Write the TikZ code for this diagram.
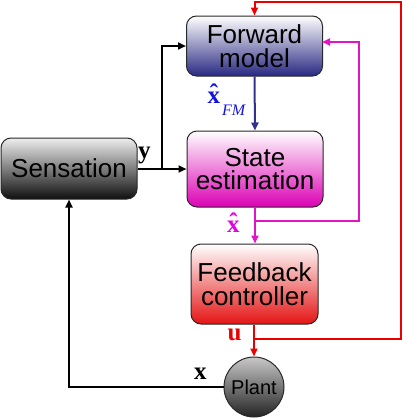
\documentclass[tikz,border=0pt]{standalone}
\usepackage{fontspec}
\setsansfont{Liberation Sans}
\newfontfamily\lserif{Liberation Serif}
\usetikzlibrary{arrows.meta}
\newcommand\myxhat{\ooalign{x\cr\hidewidth\raisebox{0.06em}{\symbol{"02C6}}\hidewidth\cr}}
\definecolor{fmbot}{RGB}{40,40,130}
\definecolor{sebot}{RGB}{220,0,180}
\definecolor{fcbot}{RGB}{228,20,20}
\definecolor{snbot}{RGB}{15,15,15}
\definecolor{sntop}{RGB}{238,238,238}
\definecolor{pltop}{RGB}{200,200,200}
\definecolor{plbot}{RGB}{35,35,35}
\definecolor{lnblue}{RGB}{50,50,140}
\definecolor{labblue}{RGB}{20,20,220}
\definecolor{lnmag}{RGB}{225,20,200}
\definecolor{labmag}{RGB}{230,0,230}
\definecolor{lnred}{RGB}{235,0,0}
\definecolor{boxedge}{RGB}{40,40,40}
\tikzset{
  blockbox/.style={draw=boxedge, line width=1pt, rounded corners=10pt, inner sep=0pt,
    align=center, font=\sffamily\fontsize{26}{23.5}\selectfont},
  conn/.style={line width=2pt, -{Triangle[length=8pt,width=7pt]}},
  lab/.style={font=\lserif\bfseries\fontsize{25}{25}\selectfont, inner sep=0pt, anchor=base west},
}
\begin{document}
\begin{tikzpicture}[x=1pt,y=-1pt]
\useasboundingbox (0,0) rectangle (403,418);
% blocks
\node[blockbox, minimum width=136pt, minimum height=60pt, top color=white, bottom color=fmbot] (fm) at (254.5,46) {Forward\\model};
\node[blockbox, minimum width=136pt, minimum height=76pt, top color=white, bottom color=sebot] (se) at (255,169) {State\\estimation};
\node[blockbox, minimum width=127pt, minimum height=80pt, top color=white, bottom color=fcbot] (fc) at (254.5,284) {Feedback\\controller};
\node[blockbox, minimum width=136pt, minimum height=61pt, top color=sntop, bottom color=snbot] (sn) at (69,168.5) {Sensation};
\node[circle, draw=boxedge, line width=1pt, minimum size=60pt, inner sep=0pt, top color=pltop, bottom color=plbot,
  font=\sffamily\fontsize{20}{20}\selectfont] (pl) at (254,387) {Plant};
% coordinates
\coordinate (j1) at (162,169);
\coordinate (j2) at (255,221);
\coordinate (m1) at (359,221);
\coordinate (m2) at (359,42);
\coordinate (m3) at (322,42);
\coordinate (j3) at (254,339);
\coordinate (r1) at (401,339);
\coordinate (r2) at (401,2);
\coordinate (r3) at (254.5,2);
% connectors
\draw[conn, lnblue] (fm.south) -- (se.north);
\draw[conn, black] (sn.east |- j1) -- (se.west |- j1);
\draw[conn, black] (j1) |- (fm.west);
\draw[conn, lnmag] (se.south -| j2) -- (fc.north -| j2);
\draw[conn, lnmag] (j2) -- (m1) -- (m2) -- (m3);
\draw[conn, lnred] (fc.south -| j3) -- (pl.north -| j3);
\draw[conn, lnred] (j3) -- (r1) -- (r2) -- (r3) -- (fm.north);
\draw[conn, black] (pl.west) -| (sn.south);
% labels
\node[lab, text=labblue] (lfm) at (207.5,103) {\myxhat};
\node[lab, text=labblue, font=\lserif\itshape\fontsize{16}{16}\selectfont] (lfmsub) at (222,115.5) {FM};
\node[lab, text=labmag] (lxh) at (227,232) {\myxhat};
\node[lab, text=lnred] (lu) at (227.5,340) {u};
\node[lab, text=black] (ly) at (138,158) {y};
\node[lab, text=black] (lx) at (194,379) {x};
\end{tikzpicture}
\end{document}
